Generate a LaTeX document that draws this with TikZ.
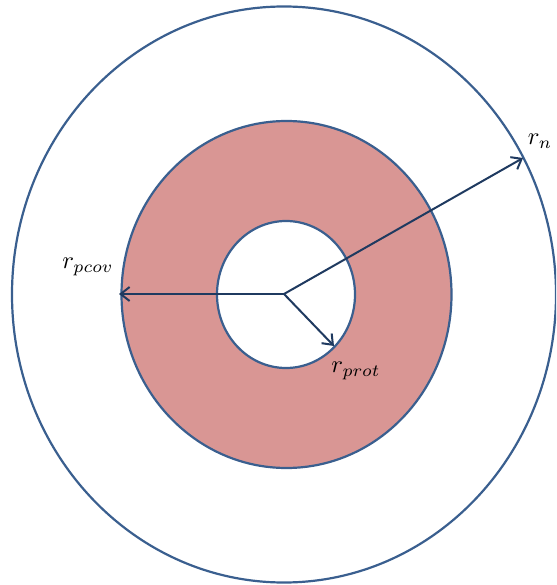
\documentclass[tikz,border=0pt]{standalone}
\usetikzlibrary{arrows.meta}
\definecolor{ringblue}{HTML}{3A5F8F}
\definecolor{arrowblue}{HTML}{1F3A60}
\definecolor{ringfill}{HTML}{D99694}
\newcommand{\biglbl}[1]{\scalebox{2.45}{$#1$}}
\tikzset{
  ring/.style={draw=ringblue, line width=2.2pt},
  radius arrow/.style={draw=arrowblue, line width=2pt, -{Straight Barb[length=9pt,width=14pt,line width=2pt]}},
  lbl/.style={inner sep=0pt}
}
\begin{document}
\begin{tikzpicture}[x=1pt,y=-1pt]
\useasboundingbox (0,0) rectangle (556,585);
\clip (0,0) rectangle (556,585);
\draw[ring] (284,294.5) ellipse [x radius=272, y radius=288];
\draw[ring, fill=ringfill] (286.5,294.5) ellipse [x radius=165, y radius=173.5];
\draw[ring, fill=white] (286,294.5) ellipse [x radius=69, y radius=73.5];
\coordinate (c) at (284,294);
\coordinate (pcov) at (119,294);
\coordinate (n) at (523,158);
\coordinate (prot) at (334,346);
\draw[radius arrow] (c) -- (pcov);
\draw[radius arrow] (c) -- (n);
\draw[radius arrow] (c) -- (prot);
\node[lbl] (ln) at (540,141) {\biglbl{r_n}};
\node[lbl] (lpcov) at (88,267) {\biglbl{r_{pcov}}};
\node[lbl] (lprot) at (356,371) {\biglbl{r_{prot}}};
\end{tikzpicture}
\end{document}
